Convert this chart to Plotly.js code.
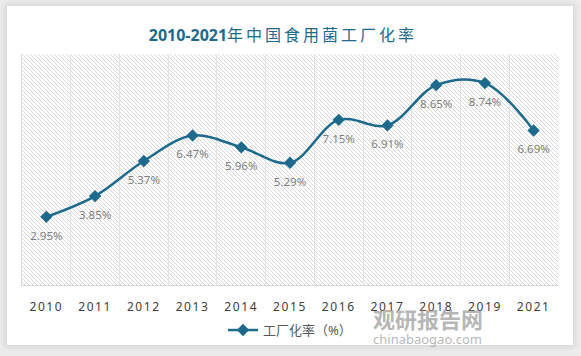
<!DOCTYPE html>
<html>
<head>
<meta charset="utf-8">
<script src="https://cdn.plot.ly/plotly-3.0.1.min.js"></script>
<style>
  html, body { margin:0; padding:0; width:581px; height:356px; overflow:hidden; background:#ececec; }
  #card { position:absolute; left:7px; top:6px; width:566px; height:339px; background:#ffffff;
          box-shadow: 0 0 6px 2px rgba(0,0,0,0.10); }
  #hatch { position:absolute; left:22px; top:54px; width:536px; height:232px;
           background-image: url("data:image/svg+xml;utf8,<svg xmlns='http://www.w3.org/2000/svg' width='4' height='4' shape-rendering='crispEdges'><rect width='4' height='4' fill='white'/><rect x='0' y='0' width='1' height='1' fill='%23dadada'/><rect x='1' y='1' width='1' height='1' fill='%23dadada'/><rect x='2' y='2' width='1' height='1' fill='%23dadada'/><rect x='3' y='3' width='1' height='1' fill='%23dadada'/></svg>");
           background-size: 4px 4px; background-repeat: repeat; image-rendering: pixelated; }
  #chart { position:absolute; left:0; top:0; width:581px; height:356px; }
  .xtick text { letter-spacing: 1.6px; }
</style>
</head>
<body>
<div id="card"></div>
<div id="hatch"></div>
<div id="chart"></div>
<script>
const years = ["2010","2011","2012","2013","2014","2015","2016","2017","2018","2019","2021"];
const rates = [2.95, 3.85, 5.37, 6.47, 5.96, 5.29, 7.15, 6.91, 8.65, 8.74, 6.69];
const labels = rates.map(v => v.toFixed(2) + "%");
const seriesName = "工厂化率（%）";
const titleText = '<b>2010-2021</b><span style="letter-spacing:3px">年中国食用菌工厂化率</span>';
const watermarkCn = "<b>观研报告网</b>";
const watermarkEn = "chinabaogao.com";

const mainColor = "#1d6a8c";
const fontFam = "'Noto Sans', 'Noto Sans CJK SC', sans-serif";

const trace = {
  x: years, y: rates, type: "scatter", mode: "lines+markers",
  name: seriesName,
  line: { color: mainColor, width: 2.5, shape: "spline", smoothing: 1 },
  marker: { symbol: "diamond", size: 9.5, color: mainColor },
  cliponaxis: false
};

const labelTrace = {
  x: years, y: rates, type: "scatter", mode: "markers+text", showlegend: false,
  marker: { size: 21, color: "rgba(0,0,0,0)" },
  text: labels, textposition: "bottom center",
  textfont: { family: fontFam, size: 11.5, color: "#7f7f7f" },
  cliponaxis: false, hoverinfo: "skip"
};

const layout = {
  width: 581, height: 356,
  margin: { l: 22, r: 23, t: 54, b: 70 },
  paper_bgcolor: "rgba(0,0,0,0)", plot_bgcolor: "rgba(0,0,0,0)",
  title: { text: titleText, x: 0.487, xanchor: "center", y: 1 - 35/356, yanchor: "middle", yref: "container",
           font: { family: fontFam, size: 16, color: mainColor } },
  xaxis: { type: "category", range: [-0.5, 10.5], showgrid: true, gridcolor: "#e3e3e3", gridwidth: 1,
           tickson: "boundaries", ticks: "", showline: true, linecolor: "#d9d9d9", linewidth: 1,
           tickfont: { family: fontFam, size: 12, color: "#404040" }, ticklabelstandoff: 11, zeroline: false, fixedrange: true },
  yaxis: { range: [0, 10], showgrid: false, showticklabels: false, ticks: "", zeroline: false,
           showline: true, linecolor: "#d9d9d9", linewidth: 1, fixedrange: true },
  showlegend: true,
  legend: { orientation: "h", x: 0.5, xanchor: "center", y: -0.19, yanchor: "middle",
            font: { family: fontFam, size: 13, color: "#595959" }, bgcolor: "rgba(0,0,0,0)" },
  annotations: [
    { text: watermarkCn, xref: "paper", yref: "paper", x: (428 - 22)/536, y: (286 - 319)/232,
      showarrow: false, xanchor: "center", yanchor: "middle",
      font: { family: "'Noto Sans CJK SC', sans-serif", size: 22, color: "rgba(150,150,150,0.7)" } },
    { text: watermarkEn, xref: "paper", yref: "paper", x: (427 - 22)/536, y: (286 - 340)/232,
      showarrow: false, xanchor: "center", yanchor: "middle",
      font: { family: fontFam, size: 13, color: "rgba(160,160,160,0.75)" } }
  ]
};

Plotly.newPlot("chart", [labelTrace, trace], layout, { displayModeBar: false, staticPlot: true });
</script>
</body>
</html>
